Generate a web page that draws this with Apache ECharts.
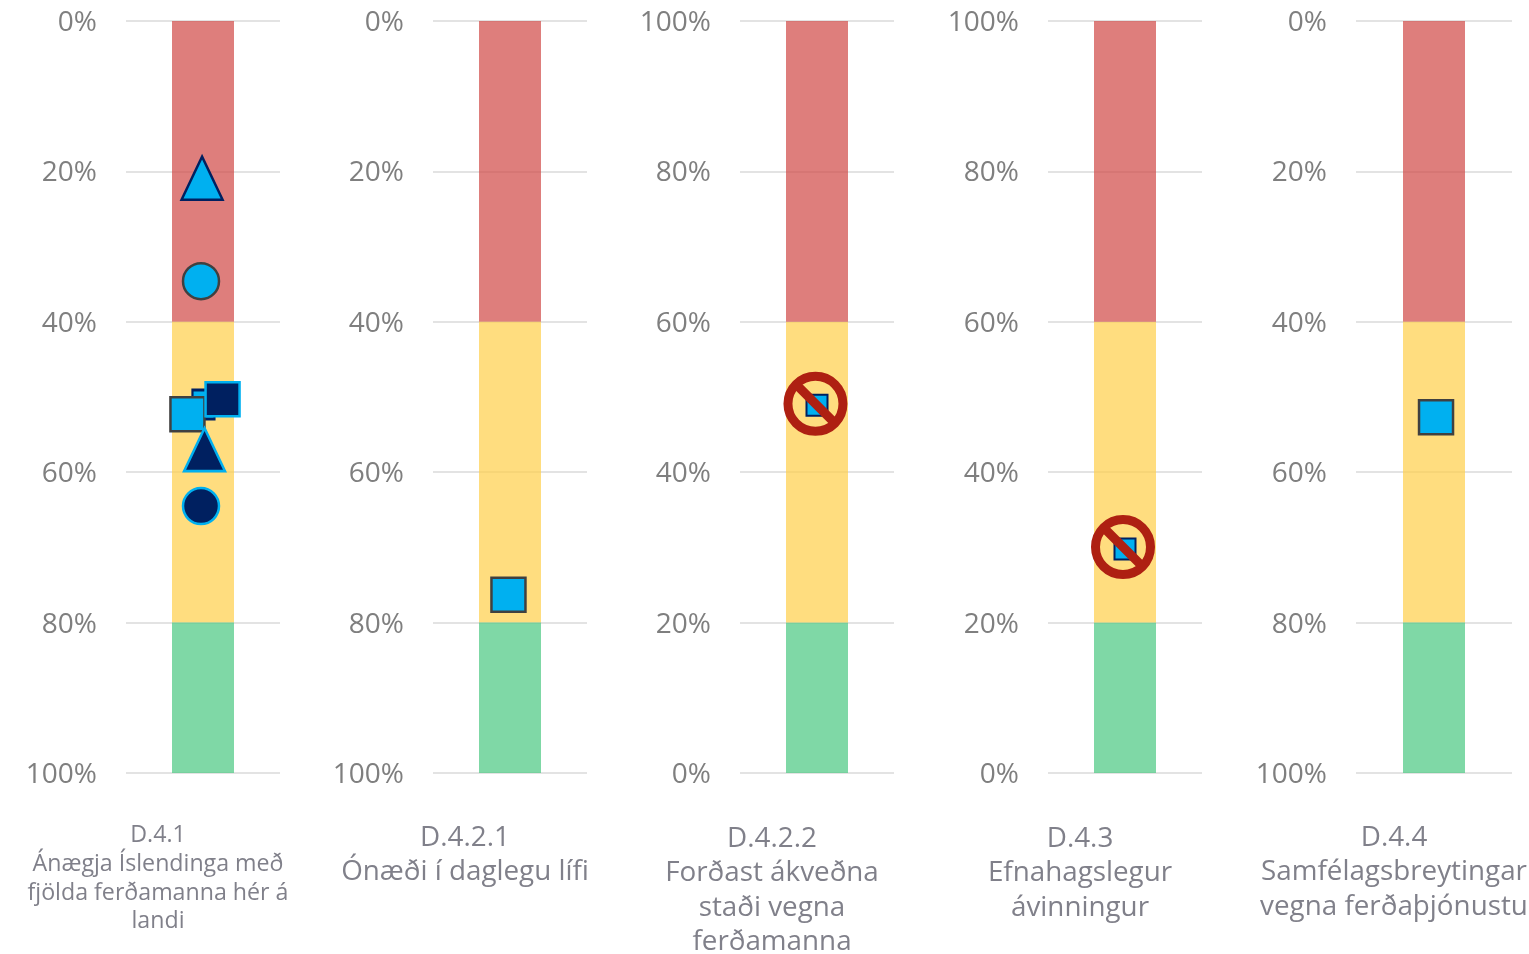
<!DOCTYPE html>
<html><head><meta charset="utf-8">
<style>html,body{margin:0;padding:0;background:#fff}#c{width:1529px;height:954px}</style>
<script src="https://cdn.jsdelivr.net/npm/echarts@6/dist/echarts.min.js"></script>
</head><body><div id="c"></div>
<script>
const FONT = '"Open Sans", sans-serif';
const lowerBand = [20, 20, 20, 20, 20];     // bands in share of scale
const midBand = [40, 40, 40, 40, 40];
const upperBand = [40, 40, 40, 40, 40];
const inverted = [true, true, false, false, true];
const captions = [
  ['D.4.1', 'Ánægja Íslendinga með', 'fjölda ferðamanna hér á', 'landi'],
  ['D.4.2.1', 'Ónæði í daglegu lífi'],
  ['D.4.2.2', 'Forðast ákveðna', 'staði vegna', 'ferðamanna'],
  ['D.4.3', 'Efnahagslegur', 'ávinningur'],
  ['D.4.4', 'Samfélagsbreytingar', 'vegna ferðaþjónustu']
];
// marker readings: [panel, x-position %, value]
const lightTriangle = [[0, 49.4, 20.9]];
const lightCircle = [[0, 48.7, 34.6]];
const backSquare = [[0, 50.3, 51.0]];
const greySquares = [[0, 39.9, 52.3], [1, 49, 76.3], [4, 51.3, 52.7]];
const darkSquare = [[0, 62.7, 50.3]];
const darkTriangle = [[0, 51, 57.0]];
const darkCircle = [[0, 48.7, 64.5]];
const smallSquares = [[2, 50, 48.9], [3, 50, 29.8]];
const banSigns = [[2, 49, 49.1], [3, 48.7, 30.05]];

const panels = [
  {l:126,w:154,cx:158,top:824,size:23.2,lh:28.7},
  {l:433,w:154,cx:465,top:824,size:27.8,lh:34.5},
  {l:740,w:154,cx:772,top:825,size:27.8,lh:34.5},
  {l:1048,w:154,cx:1080,top:825,size:27.8,lh:34.5},
  {l:1356,w:156,cx:1394,top:824,size:27.8,lh:34.5}
];
const RED='rgba(208,71,68,.7)', YEL='rgba(255,206,72,.7)', GRN='rgba(72,199,128,.7)';
const BLUE='#00B0F0', NAVY='#002060', GREY='#404040', BAN='#AE2012';
const grid=[],xAxis=[],yAxis=[],series=[],graphic=[];

panels.forEach((p,i)=>{
  grid.push({left:p.l,width:p.w,top:21,height:752});
  xAxis.push({type:'category',gridIndex:i,data:['a'],show:false});
  xAxis.push({type:'value',gridIndex:i,min:0,max:100,show:false});
  yAxis.push({type:'value',gridIndex:i,min:0,max:100,interval:20,inverse:inverted[i],
    axisLine:{show:false},axisTick:{show:false},
    axisLabel:{formatter:'{t|{value}%}',margin:29,
      rich:{t:{fontFamily:FONT,fontSize:28,color:'#7F7F7F',padding:[4,0,0,0]}}},
    splitLine:{lineStyle:{color:'#E3E3E3',width:2}}});
  const bands = inverted[i]
    ? [[upperBand[i],RED],[midBand[i],YEL],[lowerBand[i],GRN]]
    : [[lowerBand[i],GRN],[midBand[i],YEL],[upperBand[i],RED]];
  bands.forEach(b=>series.push({type:'bar',xAxisIndex:2*i,yAxisIndex:i,stack:'s'+i,barWidth:62,
    data:[b[0]],itemStyle:{color:b[1]},silent:true,z:2}));
  captions[i].forEach((t,k)=>graphic.push({type:'text',
    style:{text:t,x:p.cx,y:p.top+k*p.lh,align:'center',verticalAlign:'top',fill:'#80808A',
      fontFamily:FONT,fontSize:p.size}}));
});

function marks(rows,symbol,size,fill,stroke,bw,z){
  rows.forEach(r=>series.push({type:'scatter',xAxisIndex:2*r[0]+1,yAxisIndex:r[0],clip:false,
    symbol,symbolSize:size,data:[[r[1],r[2]]],silent:true,z,
    itemStyle:{color:fill,borderColor:stroke,borderWidth:bw,opacity:1}}));
}
marks(lightTriangle,'triangle',[41,43],BLUE,NAVY,2.5,5);
marks(lightCircle,'circle',36,BLUE,GREY,2.5,5);
marks(backSquare,'rect',[22,29],BLUE,NAVY,2.5,5);
marks(greySquares,'rect',34,BLUE,GREY,2.5,6);
marks(darkSquare,'rect',34,NAVY,BLUE,2.5,7);
marks(darkTriangle,'triangle',[41,43],NAVY,BLUE,2.5,8);
marks(darkCircle,'circle',36,NAVY,BLUE,2.5,5);
marks(smallSquares,'rect',21,BLUE,NAVY,2,5);
marks(banSigns,'path://M50 0A50 50 0 1 1 49.99 0ZM15 15L85 85',55,'none',BAN,9,9);

const chart=echarts.init(document.getElementById('c'),null,{renderer:'canvas'});
chart.setOption({animation:false,backgroundColor:'#fff',grid,xAxis,yAxis,series,graphic});
</script></body></html>
